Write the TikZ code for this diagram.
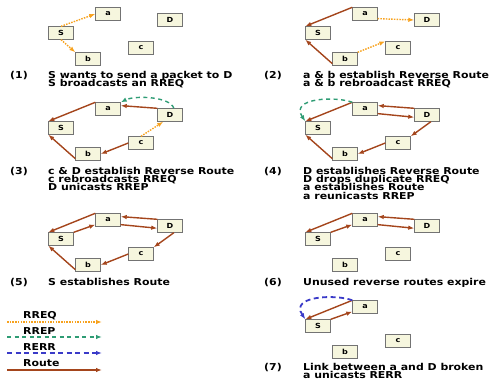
\documentclass[tikz,border=0pt]{standalone}
\usepackage{fontspec}
\setmainfont{DejaVu Sans}[FakeStretch=1.15]
\usetikzlibrary{arrows.meta}
\definecolor{hostfill}{HTML}{F6F6DE}
\definecolor{routecol}{HTML}{A4451C}
\definecolor{rreqcol}{HTML}{F7A21E}
\definecolor{rrepcol}{HTML}{2E9C74}
\definecolor{rerrcol}{HTML}{3A3AC8}
\tikzset{
  host/.style={draw=black!55, fill=hostfill, minimum width=25pt, minimum height=13pt,
    inner sep=0pt, font=\fontsize{7}{7}\selectfont\bfseries},
  caption/.style={anchor=north west, inner sep=0pt, align=left,
    font={\fontsize{9.5}{8.2}\selectfont\bfseries\lineskiplimit-20pt\relax}},
  legend/.style={anchor=west, inner sep=0pt, font=\fontsize{9.5}{9.5}\selectfont\bfseries},
  linktip/.style={-{Latex[length=6pt,width=4.5pt]}},
  route/.style={linktip, draw=routecol, line width=1.4pt},
  rreq/.style={linktip, draw=rreqcol, line width=1.4pt, dash pattern=on 1.5pt off 1.2pt},
  rrep/.style={linktip, draw=rrepcol, line width=1.4pt, dash pattern=on 4pt off 3.5pt},
  rerr/.style={linktip, draw=rerrcol, line width=1.8pt, dash pattern=on 5pt off 3.5pt},
}
\begin{document}
\begin{tikzpicture}[x=1pt, y=-1pt]
	\useasboundingbox (0,0) rectangle (492,381);
	% hosts of panels 1-6
	\foreach \p/\x/\y in {1/0/0,2/257/0,3/0/95,4/257/95,5/0/206,6/257/206}{
		\begin{scope}[shift={(\x,\y)}]
			\node[host] (a\p) at (108,14) {a};
			\node[host] (D\p) at (170,20) {D};
			\node[host] (S\p) at (61,33) {S};
			\node[host] (c\p) at (141,48) {c};
			\node[host] (b\p) at (88,59) {b};
		\end{scope}
	}
	% panel 7, D is gone
	\begin{scope}[shift={(257,293)}]
		\node[host] (a7) at (108,14) {a};
		\node[host] (S7) at (61,33) {S};
		\node[host] (c7) at (141,48) {c};
		\node[host] (b7) at (88,59) {b};
	\end{scope}
	
	% (1)
	\draw[rreq] (S1.north) -- (a1.west);
	\draw[rreq] (S1.south) -- (b1.north west);
	% (2)
	\draw[route] (a2.north west) -- (S2.north west);
	\draw[route] (b2.200) -- (S2.south west);
	\draw[rreq] (a2.-20) -- (D2.west);
	\draw[rreq] (b2.north east) -- (c2.north west);
	% (3)
	\draw[route] (a3.north west) -- (S3.north west);
	\draw[route] (b3.200) -- (S3.south west);
	\draw[route] (D3.north west) -- (a3.15);
	\draw[route] (c3.west) -- (b3.east);
	\draw[rreq] (c3.north) -- (D3.225);
	\draw[rrep] (D3.60) .. controls +(-4,-12) and +(14,-7) .. (a3.north east);
	% (4)
	\draw[route] (a4.north west) -- (S4.north west);
	\draw[route] (b4.200) -- (S4.south west);
	\draw[route] (D4.north west) -- (a4.15);
	\draw[route] (a4.-20) -- (D4.190);
	\draw[route] (D4.-60) -- (c4.north east);
	\draw[route] (c4.west) -- (b4.east);
	\draw[rrep] (a4.north west) .. controls +(-15,-6) and +(-16,-24) .. (S4.north west);
	% (5)
	\draw[route] (a5.north west) -- (S5.north west);
	\draw[route] (S5.north east) -- (a5.200);
	\draw[route] (b5.200) -- (S5.south west);
	\draw[route] (D5.north west) -- (a5.15);
	\draw[route] (a5.-20) -- (D5.190);
	\draw[route] (D5.-60) -- (c5.north east);
	\draw[route] (c5.west) -- (b5.east);
	% (6)
	\draw[route] (a6.north west) -- (S6.north west);
	\draw[route] (S6.north east) -- (a6.200);
	\draw[route] (D6.north west) -- (a6.15);
	\draw[route] (a6.-20) -- (D6.190);
	% (7)
	\draw[route] (a7.north west) -- (S7.north west);
	\draw[route] (S7.north east) -- (a7.200);
	\draw[rerr] (a7.north west) .. controls +(-15,-6) and +(-16,-24) .. (S7.north west);
	
	% captions
	\node[caption] (n1) at (10,71) {(1)};
	\node[caption] (t1) at (48,71) {S wants to send a packet to D\\S broadcasts an RREQ};
	\node[caption] (n2) at (264,71) {(2)};
	\node[caption] (t2) at (303,71) {a \& b establish Reverse Route\\a \& b rebroadcast RREQ};
	\node[caption] (n3) at (10,167) {(3)};
	\node[caption] (t3) at (48,167) {c \& D establish Reverse Route\\c rebroadcasts RREQ\\D unicasts RREP};
	\node[caption] (n4) at (264,167) {(4)};
	\node[caption] (t4) at (303,167) {D establishes Reverse Route\\D drops duplicate RREQ\\a establishes Route\\a reunicasts RREP};
	\node[caption] (n5) at (10,278) {(5)};
	\node[caption] (t5) at (48,278) {S establishes Route};
	\node[caption] (n6) at (264,278) {(6)};
	\node[caption] (t6) at (303,278) {Unused reverse routes expire};
	\node[caption] (n7) at (264,363) {(7)};
	\node[caption] (t7) at (303,363) {Link between a and D broken\\a unicasts RERR};
	
	% legend
	\coordinate (q1) at (7,322);   \coordinate (q2) at (102,322);
	\coordinate (p1) at (7,337);   \coordinate (p2) at (102,337);
	\coordinate (e1) at (7,353);   \coordinate (e2) at (102,353);
	\coordinate (r1) at (7,370);   \coordinate (r2) at (102,370);
	\draw[rreq] (q1) -- (q2);
	\draw[rrep] (p1) -- (p2);
	\draw[rerr] (e1) -- (e2);
	\draw[route] (r1) -- (r2);
	\node[legend] (lq) at (23,316) {RREQ};
	\node[legend] (lp) at (23,331) {RREP};
	\node[legend] (le) at (23,347) {RERR};
	\node[legend] (lr) at (23,363) {Route};
\end{tikzpicture}
\end{document}
